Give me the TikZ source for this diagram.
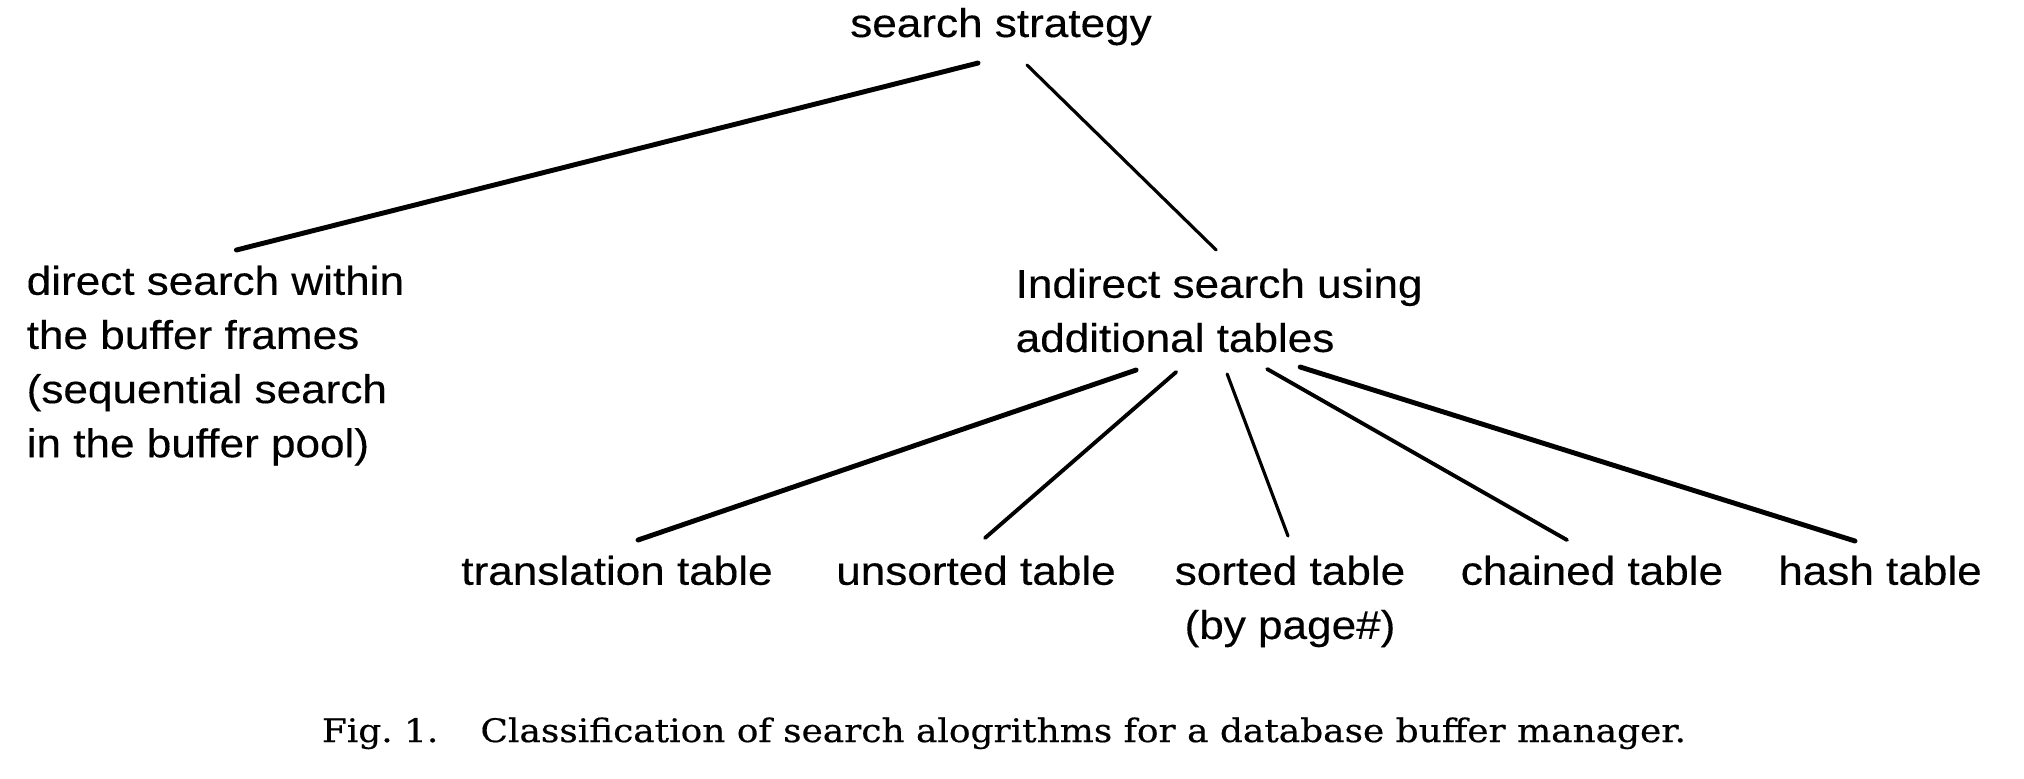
\documentclass[tikz,border=0pt]{standalone}
\usepackage{fontspec}
\newfontfamily\treefont{Liberation Sans}[FakeStretch=1.1, FakeBold=0.3]
\newfontfamily\capfont{DejaVu Serif}[FakeStretch=1.11, FakeBold=0.5]
\usepackage{tikz}

\tikzset{
  lbl/.style={inner sep=0pt, font=\treefont\fontsize{11.4}{15.4}\selectfont},
  link/.style={line width=1.1pt, line cap=round},
  heavy/.style={link, line width=1.4pt},
  light/.style={link, line width=0.9pt}
}

\begin{document}
\begin{tikzpicture}[x=0.01cm, y=-0.01cm]
    \def\toprow{555}
    \useasboundingbox (0,0) rectangle (2024,778);
    \node[lbl, anchor=base] (root) at (1001,37) {search strategy};
    \node[lbl, anchor=north west, align=left] (direct) at (26,265)
        {direct search within\\the buffer frames\\(sequential search\\in the buffer pool)};
    \node[lbl, anchor=north west, align=left] (ind) at (1015,268)
        {Indirect search using\\additional tables};
    \node[lbl, anchor=north] (trans) at (617,\toprow) {translation table};
    \node[lbl, anchor=north] (unsort) at (976,\toprow) {unsorted table};
    \node[lbl, anchor=north, align=center] (sort) at (1290,\toprow) {sorted table\\(by page\#)};
    \node[lbl, anchor=north] (chain) at (1592,\toprow) {chained table};
    \node[lbl, anchor=north] (hash) at (1880,\toprow) {hash table};
    \draw[heavy] ([shift={(-23,17)}]root.south) -- ([shift={(21,-15)}]direct.north);
    \draw[light] ([shift={(26,19)}]root.south) -- ([shift={(-3,-18)}]ind.north);
    \draw[heavy] ([shift={(-83,17)}]ind.south) -- ([shift={(21,-15)}]trans.north);
    \draw[link] ([shift={(-43,19)}]ind.south) -- ([shift={(9,-17)}]unsort.north);
    \draw[light] ([shift={(8,21)}]ind.south) -- ([shift={(-2,-19)}]sort.north);
    \draw[link] ([shift={(48,16)}]ind.south) -- ([shift={(-25,-15)}]chain.north);
    \draw[heavy] ([shift={(81,14)}]ind.south) -- ([shift={(-25,-14)}]hash.north);
    \node[anchor=base, inner sep=0pt, font=\capfont\fontsize{9.2}{11}\selectfont] (caption) at (1004,742)
        {Fig.~1.\hskip 12pt Classification of search alogrithms for a database buffer manager.};
\end{tikzpicture}
\end{document}
